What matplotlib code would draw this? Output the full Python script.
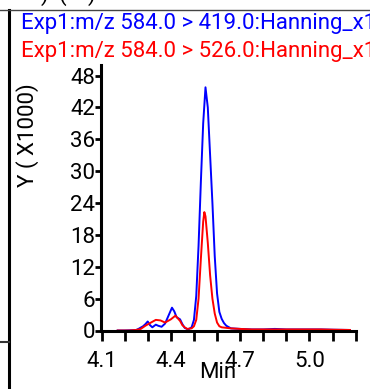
import matplotlib
matplotlib.use("Agg")
import matplotlib.pyplot as plt
from matplotlib.lines import Line2D

plt.rcParams['font.family'] = ['Roboto', 'DejaVu Sans']

# retention time (min) and intensity (x1000) for each transition
t_419 = [4.17, 4.20, 4.23, 4.25, 4.26, 4.28, 4.29, 4.30, 4.31, 4.32, 4.335, 4.345,
         4.36, 4.375, 4.39, 4.405, 4.415, 4.425, 4.44, 4.45, 4.46, 4.475, 4.49,
         4.50, 4.51, 4.52, 4.53, 4.54, 4.55, 4.56, 4.57, 4.58, 4.59, 4.60, 4.61,
         4.62, 4.63, 4.64, 4.66, 4.70, 4.75, 4.80, 4.85, 4.90, 4.95, 5.00, 5.05,
         5.10, 5.175]
y_419 = [0.0, 0.0, 0.05, 0.1, 0.3, 0.8, 1.2, 1.7, 1.0, 0.6, 1.1, 0.9,
         0.7, 1.3, 2.8, 4.3, 3.6, 2.5, 2.1, 1.2, 0.5, 0.2, 0.6,
         2.0, 6.5, 16.0, 28.0, 39.0, 45.8, 42.0, 33.0, 24.0, 14.0, 7.0, 3.5,
         2.2, 1.4, 0.9, 0.4, 0.3, 0.2, 0.2, 0.3, 0.2, 0.2, 0.2, 0.2,
         0.15, 0.1]

t_526 = [4.17, 4.22, 4.25, 4.27, 4.29, 4.31, 4.335, 4.355, 4.375, 4.40, 4.42,
         4.43, 4.44, 4.45, 4.46, 4.47, 4.49, 4.50, 4.51, 4.52, 4.53, 4.54,
         4.545, 4.55, 4.56, 4.57, 4.58, 4.59, 4.60, 4.61, 4.62, 4.64, 4.66,
         4.70, 4.75, 4.80, 4.85, 4.90, 4.95, 5.00, 5.05, 5.10, 5.175]
y_526 = [0.0, 0.0, 0.1, 0.3, 0.9, 1.4, 2.0, 1.9, 1.5, 2.1, 2.8,
         2.3, 1.8, 1.0, 0.6, 0.3, 0.4, 0.8, 2.0, 6.0, 13.5, 20.5,
         22.3, 21.5, 16.5, 10.4, 6.0, 3.2, 1.5, 0.8, 0.6, 0.5, 0.4,
         0.3, 0.2, 0.2, 0.2, 0.2, 0.2, 0.2, 0.2, 0.15, 0.1]

labels = ["Exp1:m/z 584.0 > 419.0:Hanning_x1", "Exp1:m/z 584.0 > 526.0:Hanning_x1"]
colors = ["#0000ff", "#ff0000"]

x_ticks = [4.1, 4.2, 4.3, 4.4, 4.5, 4.6, 4.7, 4.8, 4.9, 5.0, 5.1, 5.2]
x_ticklabels = ["4.1", "", "", "4.4", "", "", "4.7", "", "", "5.0", "", ""]
y_ticks = [0, 6, 12, 18, 24, 30, 36, 42, 48]

FS = 16
W, H = 370, 389
fig = plt.figure(figsize=(W / 100, H / 100), dpi=100)

# panel frame lines
fig.add_artist(Line2D([9 / W, 9 / W], [0, 1 - 10 / H], color="black", lw=2.2))
fig.add_artist(Line2D([0, 1], [1 - 10 / H, 1 - 10 / H], color="#444444", lw=1.0))
fig.add_artist(Line2D([0, 9 / W], [1 - 341.5 / H, 1 - 341.5 / H], color="#333333", lw=1.5))
# bottom of the heading row above the panel
for xp, ch in [(44, ")"), (62, "("), (91, ")")]:
    fig.text(xp / W, 1 - 1 / H, ch, fontsize=FS, ha="center", va="baseline", color="black")

ax = fig.add_axes([101.5 / W, 58.5 / H, 254.2 / W, 265.5 / H])
ax.plot(t_419, y_419, color=colors[0], lw=1.4)
ax.plot(t_526, y_526, color=colors[1], lw=1.4)

ax.set_xlim(4.1, 5.2)
ax.set_ylim(0, 50)
ax.set_xticks(x_ticks)
ax.set_xticklabels(x_ticklabels)
ax.set_yticks(y_ticks)
for s in ["top", "right"]:
    ax.spines[s].set_visible(False)
for s in ["left", "bottom"]:
    ax.spines[s].set_linewidth(2.2)
ax.tick_params(axis="x", length=7.5, width=2, pad=7, labelsize=FS)
ax.tick_params(axis="y", length=4.5, width=2, pad=0, labelsize=FS)

fig.text(28 / W, 1 - 135 / H, "Y ( X1000)", rotation=90, fontsize=FS,
         ha="center", va="center")
fig.text(218 / W, 1 - 372 / H, "Min", fontsize=FS, ha="center", va="center")

fig.text(21 / W, 1 - 28.5 / H, labels[0], color=colors[0], fontsize=FS, va="baseline")
fig.text(21 / W, 1 - 57 / H, labels[1], color=colors[1], fontsize=FS, va="baseline")

fig.savefig("out.png", dpi=100)
